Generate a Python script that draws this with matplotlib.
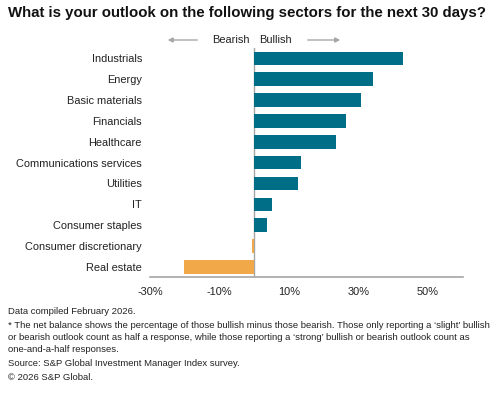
import matplotlib.pyplot as plt

plt.rcParams['font.family'] = ['Liberation Sans', 'DejaVu Sans']

# Net balance outlook by sector (%)
sectors = ["Industrials", "Energy", "Basic materials", "Financials", "Healthcare",
           "Communications services", "Utilities", "IT", "Consumer staples",
           "Consumer discretionary", "Real estate"]
net_balance = [42.7, 34.1, 30.6, 26.5, 23.4, 13.6, 12.6, 5.0, 3.6, -0.6, -20.1]

x_ticks = [-30, -10, 10, 30, 50]
x_tick_labels = ["-30%", "-10%", "10%", "30%", "50%"]

TEAL = "#006e87"
ORANGE = "#f0a848"
GREY = "#a6a6a6"

fig = plt.figure(figsize=(4.94, 3.93), dpi=100)
ax = fig.add_axes([0.3036, 0.2944, 0.633, 0.5835])

colors = [TEAL if v >= 0 else ORANGE for v in net_balance]
ax.barh(range(len(sectors)), net_balance, height=0.65, color=colors)

ax.set_ylim(len(sectors) - 0.5, -0.5)
ax.set_xlim(-30, 60)
ax.set_yticks(range(len(sectors)))
ax.set_yticklabels(sectors, fontsize=7.9, color="#222222")
ax.set_xticks(x_ticks)
ax.set_xticklabels(x_tick_labels, fontsize=7.9, color="#222222")
ax.tick_params(axis="x", length=0, pad=7)
ax.tick_params(axis="y", length=0, pad=5.8)

for side in ["top", "right", "left"]:
    ax.spines[side].set_visible(False)
ax.spines["bottom"].set_color(GREY)
ax.spines["bottom"].set_linewidth(1.2)
ax.axvline(0, color=GREY, lw=1.0, zorder=0)

# title and direction hints
fig.text(0.5, 1 - 13 / 393, "What is your outlook on the following sectors for the next 30 days?",
         ha="center", va="center", fontsize=10.8, fontweight="bold", color="#111111")
fig.text(231 / 494, 1 - 40 / 393, "Bearish", ha="center", va="center", fontsize=7.9, color="#222222")
fig.text(275 / 494, 1 - 40 / 393, "Bullish", ha="center", va="center", fontsize=7.9, color="#222222")
fig.patches.append(plt.matplotlib.patches.FancyArrowPatch(
    (200 / 494, 1 - 40 / 393), (165 / 494, 1 - 40 / 393), transform=fig.transFigure,
    arrowstyle="-|>", mutation_scale=7, color=GREY, lw=1))
fig.patches.append(plt.matplotlib.patches.FancyArrowPatch(
    (305 / 494, 1 - 40 / 393), (343 / 494, 1 - 40 / 393), transform=fig.transFigure,
    arrowstyle="-|>", mutation_scale=7, color=GREY, lw=1))

# footnotes
notes = [
    (311, "Data compiled February 2026."),
    (325, "* The net balance shows the percentage of those bullish minus those bearish. Those only reporting a \u2018slight\u2019 bullish"),
    (337, "or bearish outlook count as half a response, while those reporting a \u2018strong\u2019 bullish or bearish outlook count as"),
    (349, "one-and-a-half responses."),
    (364, "Source: S&P Global Investment Manager Index survey."),
    (377, "\u00a9 2026 S&P Global."),
]
for y, txt in notes:
    fig.text(8 / 494, 1 - y / 393, txt, ha="left", va="center", fontsize=6.8, color="#222222")

fig.savefig("out.png", dpi=100)
